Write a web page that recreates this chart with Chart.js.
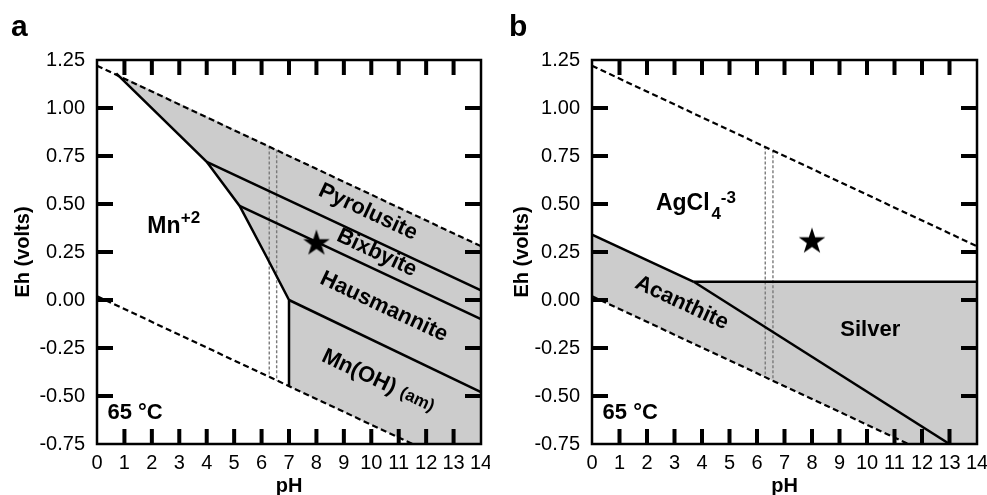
<!DOCTYPE html>
<html>
<head>
<meta charset="utf-8">
<script src="https://cdn.jsdelivr.net/npm/chart.js@4.4.0/dist/chart.umd.min.js"></script>
<style>
  body { margin: 0; background: #fff; }
  #wrap { position: relative; width: 987px; height: 495px; font-family: 'Liberation Sans', Arial, sans-serif; }
  canvas { position: absolute; top: 0; }
  .tag { position: absolute; font-weight: bold; font-size: 30px; line-height: 30px; }
</style>
</head>
<body>
<div id="wrap">
  <canvas id="chartA" width="490" height="495" style="left:0"></canvas>
  <canvas id="chartB" width="497" height="495" style="left:490px"></canvas>
  <div class="tag" style="left:11px;top:11px">a</div>
  <div class="tag" style="left:509px;top:11px">b</div>
</div>
<script>
// axis ticks
const phTicks = [0, 1, 2, 3, 4, 5, 6, 7, 8, 9, 10, 11, 12, 13, 14];
const ehTicks = [-0.75, -0.5, -0.25, 0, 0.25, 0.5, 0.75, 1.0, 1.25];

// water stability limits (65 °C), [pH, Eh]
const upperWater = [[0, 1.22], [14, 0.28]];
const lowerWater = [[0, 0.02], [11.5, -0.75]];

// panel a : Mn system
const mnBoundary = [[0.7, 1.18], [4.0, 0.72], [5.2, 0.49], [6.2, 0.22], [7.0, 0.0], [7.0, -0.45]];
const pyroBixby = [[4.0, 0.72], [14, 0.05]];
const bixbyHaus = [[5.2, 0.49], [14, -0.10]];
const hausMnOH = [[7.0, 0.0], [14, -0.48]];
const solidsA = [[0.7, 1.18], [14, 0.28], [14, -0.75], [11.5, -0.75], [7.0, -0.45], [7.0, 0.0],
                 [6.2, 0.22], [5.2, 0.49], [4.0, 0.72], [0.7, 1.18]];
const dotA1 = [[6.28, 0.80], [6.28, -0.40]];
const dotA2 = [[6.55, 0.78], [6.55, -0.42]];
const sampleA = [[8.0, 0.30]];

// panel b : Ag system
const acanthiteTop = [[0, 0.34], [3.7, 0.095]];
const silverTop = [[3.7, 0.095], [14, 0.095]];
const acanSilver = [[3.7, 0.095], [13.0, -0.75]];
const solidsB = [[0, 0.34], [3.7, 0.095], [14, 0.095], [14, -0.75], [11.5, -0.75], [0, 0.02], [0, 0.34]];
const dotB1 = [[6.30, 0.80], [6.30, -0.40]];
const dotB2 = [[6.58, 0.78], [6.58, -0.42]];
const sampleB = [[8.0, 0.31]];

const FONT = "'Liberation Sans', Arial, sans-serif";
Chart.defaults.font.family = FONT;
Chart.defaults.color = '#000';

// filled five point star for the sample marker
const star = document.createElement('canvas');
star.width = 30; star.height = 30;
(function () {
  const c = star.getContext('2d');
  c.beginPath();
  for (let i = 0; i < 10; i++) {
    const r = i % 2 ? 5.4 : 14;
    const a = -Math.PI / 2 + i * Math.PI / 5;
    c.lineTo(15 + r * Math.cos(a), 16 + r * Math.sin(a));
  }
  c.closePath();
  c.fillStyle = '#000';
  c.fill();
})();

const pts = d => d.map(([x, y]) => ({ x, y }));
const solid = d => ({ data: pts(d), borderColor: '#000', borderWidth: 2.5, pointRadius: 0, fill: false, order: 2 });
const dashed = d => ({ ...solid(d), borderWidth: 2.2, borderDash: [6, 3.5] });
const dotted = d => ({ data: pts(d), borderColor: '#7a7a7a', borderWidth: 1.4, borderDash: [3, 2], pointRadius: 0, fill: false, order: 3 });
const area = d => ({ data: pts(d), fill: 'shape', backgroundColor: '#cccccc', borderColor: 'rgba(0,0,0,0)', borderWidth: 0, pointRadius: 0, order: 9 });
const marker = d => ({ data: pts(d), showLine: false, pointStyle: star, pointRadius: 12, order: 0 });

function makePanel(id, padRight, yWidth, titlePad, datasets, labels) {
  const deco = {
    id: 'deco',
    afterDatasetsDraw(chart) {
      const { ctx, chartArea: a, scales: { x, y } } = chart;
      const tilt = Math.atan2(y.getPixelForValue(-0.067) - y.getPixelForValue(0), x.getPixelForValue(1) - x.getPixelForValue(0));
      ctx.save();
      ctx.fillStyle = '#000';
      ctx.textAlign = 'center';
      ctx.textBaseline = 'middle';
      for (const l of labels) {
        ctx.save();
        ctx.translate(x.getPixelForValue(l.x), y.getPixelForValue(l.y));
        if (l.tilt) ctx.rotate(tilt);
        ctx.font = 'bold ' + l.size + 'px ' + FONT;
        ctx.fillText(l.text, 0, 0);
        ctx.restore();
      }
      // inward tick marks and frame
      for (const t of x.ticks) {
        if (t.value <= x.min || t.value >= x.max) continue;
        const px = x.getPixelForValue(t.value);
        ctx.fillRect(px - 2, a.top, 4, 15);
        ctx.fillRect(px - 2, a.bottom - 15, 4, 15);
      }
      for (const t of y.ticks) {
        if (t.value <= y.min || t.value >= y.max) continue;
        const py = y.getPixelForValue(t.value);
        ctx.fillRect(a.left, py - 2, 16, 4);
        ctx.fillRect(a.right - 16, py - 2, 16, 4);
      }
      ctx.lineWidth = 2.5;
      ctx.strokeRect(a.left, a.top, a.right - a.left, a.bottom - a.top);
      ctx.restore();
    }
  };
  return new Chart(document.getElementById(id), {
    type: 'line',
    data: { datasets },
    options: {
      responsive: false,
      animation: false,
      layout: { autoPadding: false, padding: { top: 60, right: padRight, left: 0, bottom: 0 } },
      plugins: { legend: { display: false }, tooltip: { enabled: false } },
      scales: {
        x: {
          type: 'linear', min: 0, max: 14,
          afterBuildTicks: s => { s.ticks = phTicks.map(v => ({ value: v })); },
          afterFit: s => { s.height = 51; s.paddingLeft = 0; s.paddingRight = 0; },
          grid: { display: false, drawTicks: false },
          border: { display: false },
          ticks: { autoSkip: false, maxRotation: 0, padding: 7, font: { size: 20 } },
          title: { display: true, text: 'pH', font: { size: 20, weight: 'bold' }, padding: { top: 0, bottom: -3 } }
        },
        y: {
          type: 'linear', min: -0.75, max: 1.25,
          afterBuildTicks: s => { s.ticks = ehTicks.map(v => ({ value: v })); },
          afterFit: s => { s.width = yWidth; s.paddingTop = 0; s.paddingBottom = 0; },
          grid: { display: false, drawTicks: false },
          border: { display: false },
          ticks: { padding: 12, font: { size: 20 }, callback: v => v.toFixed(2) },
          title: { display: true, text: 'Eh (volts)', font: { size: 20, weight: 'bold' }, padding: { top: titlePad, bottom: 0 } }
        }
      }
    },
    plugins: [deco]
  });
}

makePanel('chartA', 9, 97, 11, [
  marker(sampleA),
  solid(mnBoundary), solid(pyroBixby), solid(bixbyHaus), solid(hausMnOH),
  dashed(upperWater), dashed(lowerWater),
  dotted(dotA1), dotted(dotA2),
  area(solidsA)
], [
  { text: 'Pyrolusite', x: 9.88, y: 0.458, size: 22, tilt: true },
  { text: 'Bixbyite', x: 10.2, y: 0.245, size: 22, tilt: true },
  { text: 'Hausmannite', x: 10.46, y: -0.036, size: 22, tilt: true },
  { text: 'Mn(OH)', x: 9.55, y: -0.375, size: 22, tilt: true },
  { text: '(am)', x: 11.67, y: -0.52, size: 17, tilt: true },
  { text: 'Mn', x: 2.44, y: 0.38, size: 23 },
  { text: '+2', x: 3.41, y: 0.427, size: 17 },
  { text: '65 °C', x: 1.39, y: -0.59, size: 22 }
]);

makePanel('chartB', 10, 102, 20, [
  marker(sampleB),
  solid(acanthiteTop), solid(silverTop), solid(acanSilver),
  dashed(upperWater), dashed(lowerWater),
  dotted(dotB1), dotted(dotB2),
  area(solidsB)
], [
  { text: 'AgCl', x: 3.30, y: 0.50, size: 23 },
  { text: '4', x: 4.52, y: 0.445, size: 17 },
  { text: '-3', x: 4.96, y: 0.528, size: 17 },
  { text: 'Acanthite', x: 3.26, y: -0.016, size: 22, tilt: true },
  { text: 'Silver', x: 10.12, y: -0.156, size: 22 },
  { text: '65 °C', x: 1.39, y: -0.59, size: 22 }
]);
</script>
</body>
</html>
